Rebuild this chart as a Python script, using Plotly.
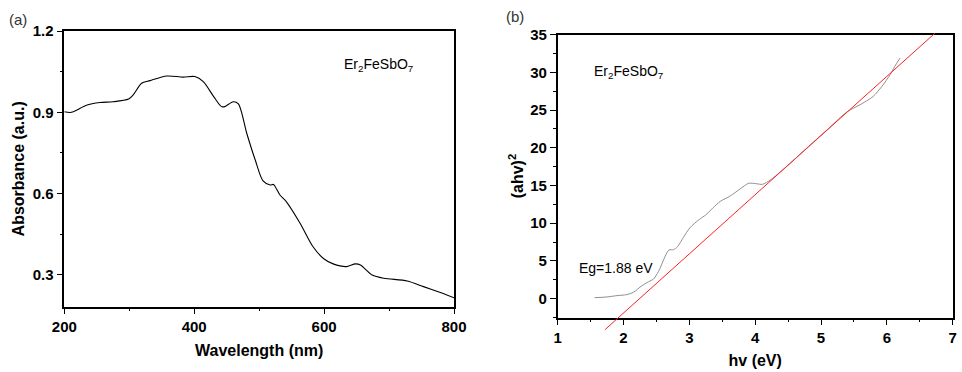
import plotly.graph_objects as go

# ---------------- data ----------------
# Panel (a): UV-vis absorbance
wavelength_nm = [200, 211, 234, 255, 275, 299, 306, 319, 332, 358, 383, 401, 414, 430, 442, 447,
                 460, 468, 481, 494, 506, 517, 522, 532, 542, 563, 583, 599, 614, 635, 648, 656,
                 674, 692, 728, 753, 779, 800]
absorbance = [0.902, 0.900, 0.926, 0.936, 0.939, 0.949, 0.964, 1.007, 1.017, 1.034, 1.030, 1.032,
              1.013, 0.958, 0.921, 0.921, 0.939, 0.931, 0.822, 0.724, 0.647, 0.632, 0.634, 0.595,
              0.570, 0.491, 0.404, 0.361, 0.341, 0.331, 0.341, 0.337, 0.300, 0.288, 0.278, 0.257,
              0.235, 0.216]

# Panel (b): Tauc plot
hv_ev = [1.56, 1.74, 1.90, 2.05, 2.15, 2.28, 2.40, 2.45, 2.53, 2.63, 2.69, 2.76, 2.82, 2.91, 3.01,
         3.14, 3.26, 3.36, 3.47, 3.62, 3.77, 3.90, 4.02, 4.11, 4.23, 4.38, 4.53, 4.80, 5.10, 5.40,
         5.59, 5.79, 5.92, 6.05, 6.12, 6.20]
ahv_sq = [0.13, 0.22, 0.40, 0.53, 0.84, 1.72, 2.34, 2.56, 3.58, 5.57, 6.45, 6.50, 6.89, 8.13, 9.41,
          10.43, 11.18, 12.06, 12.90, 13.61, 14.54, 15.29, 15.24, 15.16, 15.73, 16.79, 17.94, 20.1,
          22.45, 24.8, 25.7, 26.8, 28.1, 29.7, 30.8, 31.9]

# Linear fit (extrapolation) line
fit_hv = [1.72, 6.73]
fit_ahv_sq = [-4.1, 35.2]

# tick values
a_xticks = [200, 400, 600, 800]
a_yticks = [0.3, 0.6, 0.9, 1.2]
b_xticks = [1, 2, 3, 4, 5, 6, 7]
b_yticks = [0, 5, 10, 15, 20, 25, 30, 35]

compound = "Er<sub>2</sub>FeSbO<sub>7</sub>"
eg_label = "Eg=1.88 eV"

# ---------------- layout constants ----------------
W, H = 962, 372
FONT = "Liberation Sans, Arial, sans-serif"


def px(x):
    return x / W


def py(y):
    return 1 - y / H


A_XDOM = [px(64.3), px(454.0)]
A_YDOM = [py(306.7), py(31.0)]
A_XRANGE = [200, 800]
A_YRANGE = [0.183, 1.2]

B_XDOM = [px(557.7), px(952.7)]
B_YDOM = [py(317.5), py(34.7)]
B_XRANGE = [1, 7]
B_YRANGE = [-2.5, 35]

# companion subplot for the fit line (same scale, slightly larger clip area)
b_dom_px = (B_YDOM[1] - B_YDOM[0]) * H
units_per_px = (B_YRANGE[1] - B_YRANGE[0]) / b_dom_px
ext_bot, ext_top = 20, 5
C_YDOM = [B_YDOM[0] - ext_bot / H, B_YDOM[1] + ext_top / H]
C_YRANGE = [B_YRANGE[0] - ext_bot * units_per_px, B_YRANGE[1] + ext_top * units_per_px]

fig = go.Figure()

fig.add_trace(go.Scatter(x=wavelength_nm, y=absorbance, mode="lines",
                         line=dict(color="black", width=1.1, shape="spline", smoothing=0.8),
                         xaxis="x", yaxis="y", showlegend=False, hoverinfo="skip"))

fig.add_trace(go.Scatter(x=hv_ev, y=ahv_sq, mode="lines",
                         line=dict(color="#8f8f8f", width=1, shape="spline", smoothing=0.8),
                         xaxis="x2", yaxis="y2", showlegend=False, hoverinfo="skip"))

fig.add_trace(go.Scatter(x=fit_hv, y=fit_ahv_sq, mode="lines",
                         line=dict(color="#ff2020", width=1),
                         xaxis="x3", yaxis="y3", showlegend=False, hoverinfo="skip"))

tickfont = dict(family=FONT, size=15, color="black", weight="bold")
titlefont = dict(family=FONT, size=16, color="black", weight="bold")


def axis(domain, rng, tickvals, minor_dtick, anchor, title, standoff, fmt=None):
    d = dict(domain=domain, range=rng, anchor=anchor, tickmode="array", tickvals=tickvals,
             ticks="outside", ticklen=6, tickwidth=1.3, tickcolor="black",
             showline=True, linecolor="black", linewidth=1.5, mirror=True,
             showgrid=False, zeroline=False, tickfont=tickfont, automargin=False,
             ticklabeloverflow="allow",
             minor=dict(ticks="outside", ticklen=3, tickwidth=1, tickcolor="black",
                        dtick=minor_dtick, tick0=tickvals[0], showgrid=False),
             title=dict(text=title, font=titlefont, standoff=standoff))
    if fmt:
        d["tickformat"] = fmt
    return d


fig.update_layout(
    width=W, height=H,
    margin=dict(l=0, r=0, t=0, b=0, autoexpand=False),
    paper_bgcolor="white", plot_bgcolor="rgba(0,0,0,0)",
    font=dict(family=FONT, color="black"),
    hovermode=False,
    xaxis=axis(A_XDOM, A_XRANGE, a_xticks, 100, "y", "Wavelength (nm)", 10),
    yaxis=axis(A_YDOM, A_YRANGE, a_yticks, 0.15, "x", "Absorbance (a.u.)", 4, ".1f"),
    xaxis2=axis(B_XDOM, B_XRANGE, b_xticks, 0.5, "y2", "hv (eV)", 10),
    yaxis2=axis(B_YDOM, B_YRANGE, b_yticks, 2.5, "x2", "(ahv)<sup>2</sup>", 3),
    xaxis3=dict(domain=B_XDOM, range=B_XRANGE, anchor="y3", visible=False),
    yaxis3=dict(domain=C_YDOM, range=C_YRANGE, anchor="x3", visible=False),
    annotations=[
        dict(text="(a)", xref="paper", yref="paper", x=px(7), y=py(20),
             xanchor="left", yanchor="middle", showarrow=False,
             font=dict(family=FONT, size=15, color="#333333")),
        dict(text="(b)", xref="paper", yref="paper", x=px(504), y=py(17),
             xanchor="left", yanchor="middle", showarrow=False,
             font=dict(family=FONT, size=15, color="#333333")),
        dict(text=compound, xref="x", yref="y", x=628, y=1.075,
             xanchor="left", yanchor="middle", showarrow=False,
             font=dict(family=FONT, size=14, color="black")),
        dict(text=compound, xref="x2", yref="y2", x=1.52, y=30.1,
             xanchor="left", yanchor="middle", showarrow=False,
             font=dict(family=FONT, size=14, color="black")),
        dict(text=eg_label, xref="x2", yref="y2", x=1.29, y=4.0,
             xanchor="left", yanchor="middle", showarrow=False,
             font=dict(family=FONT, size=14, color="black")),
    ],
)

# remove the default page margin so the figure fills the window exactly
fig.write_html("out.html", config={"displayModeBar": False},
               post_script="document.body.style.margin='0';document.body.style.overflow='hidden';")
